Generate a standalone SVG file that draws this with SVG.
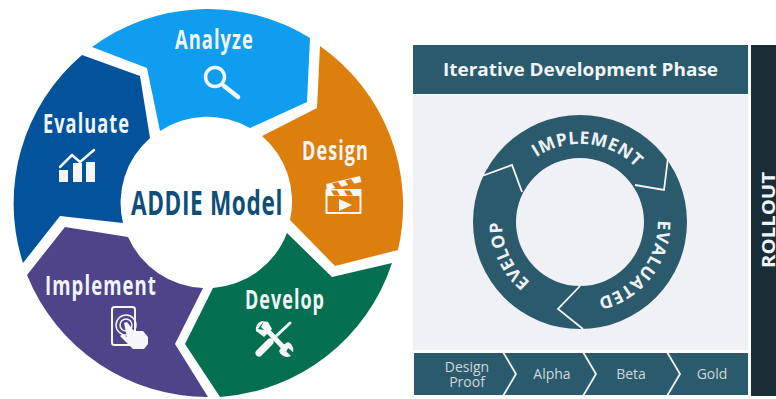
<svg xmlns="http://www.w3.org/2000/svg" width="776" height="399" viewBox="0 0 776 399">
<style>
.t{font-family:"Open Sans","Noto Sans",sans-serif;font-weight:700;fill:#f1f5f8}
.lab{font-size:26px;letter-spacing:1.500px}
.ic{fill:none;stroke:#f4f6f8;stroke-width:2;stroke-linecap:round;stroke-linejoin:round}
.w{fill:#f4f6f8}
.div{fill:none;stroke:#f4f6f8;stroke-width:1.800;stroke-linejoin:miter}
.ring{font-family:"Open Sans","Noto Sans",sans-serif;font-weight:700;font-size:17.500px;fill:#eef2f5;letter-spacing:.6px}
.ch{font-family:"Open Sans","Noto Sans",sans-serif;font-size:14px;fill:#cdd7dc;text-anchor:middle}
</style>
<rect width="776" height="399" fill="#ffffff"/>
<g id="analyze">
<path d="M92 47A195 195 0 0 1 310 38L307 102L250 128A86 86 0 0 0 160 131L147 68Z" fill="#0f9df0"/>
<text class="t lab" x="175" y="49" textLength="79" lengthAdjust="spacingAndGlyphs">Analyze</text>
<circle cx="215" cy="77" r="9.500" class="ic" style="stroke-width:3.500"/>
<path d="M224 86L238 97" class="ic" style="stroke-width:4.500"/>
</g>
<g id="design">
<path d="M320 46A195 195 0 0 1 398 250L335 266L290 220A86 86 0 0 0 262 136L317 108Z" fill="#dd7f0c"/>
<text class="t lab" x="302" y="160" textLength="67" lengthAdjust="spacingAndGlyphs">Design</text>
<rect x="326.500" y="190" width="34" height="23" class="ic"/>
<path d="M326 184L360 176L361.500 182L327 190Z" class="w"/>
<path d="M326 190H361V196H326Z" class="w"/>
<path d="M332 183.500L338 182L342 187.500L336 189ZM345 180.500L351 179L355 184.500L349 186Z" fill="#dd7f0c"/>
<path d="M331 190.500H337L340 195.500H334ZM344 190.500H350L353 195.500H347Z" fill="#dd7f0c"/>
<path d="M339 199V211L352 205Z" class="w"/>
</g>
<g id="develop">
<path d="M392 263A195 195 0 0 1 220 397L185 344L213 288A86 86 0 0 0 287 233L332 277Z" fill="#05704f"/>
<text class="t lab" x="245" y="309" textLength="80" lengthAdjust="spacingAndGlyphs">Develop</text>
<path d="M290 323L272 340" class="ic" style="stroke-width:3"/>
<path d="M270 342L259 353" class="ic" style="stroke-width:7"/>
<path d="M265 328L285 349" class="ic" style="stroke-width:5"/>
<path d="M262 321A8.500 8.500 0 0 0 256 331L264 337L272 329L268 322Z" class="w"/>
<path d="M264 321L261 327L264 330L258 329Z" fill="#05704f"/>
<path d="M283 345L279 351A8.500 8.500 0 0 0 291 356L286 351L288 348L293 352A8.500 8.500 0 0 0 288 342Z" class="w"/>
</g>
<g id="implement">
<path d="M27 275A195 195 0 0 0 208 397L175 344L203 288A86 86 0 0 1 128 237L65 227Z" fill="#4f4489"/>
<text class="t lab" x="45" y="295" textLength="112" lengthAdjust="spacingAndGlyphs">Implement</text>
<rect x="112" y="307" width="23" height="38" rx="2.500" class="ic"/>
<circle cx="126" cy="325" r="10" class="ic" style="stroke-width:1.500"/>
<circle cx="126" cy="325" r="6" class="ic" style="stroke-width:1.500"/>
<path d="M124 323L127 322L134 331L143 331L148 337V344L144 349H133L126 342L120 336L123 334L127 337Z" class="w"/>
</g>
<g id="evaluate">
<path d="M82 55L140 76L150 138A86 86 0 0 0 123 223L60 216L23 263A195 195 0 0 1 82 55Z" fill="#03529c"/>
<text class="t lab" x="43" y="133" textLength="87" lengthAdjust="spacingAndGlyphs">Evaluate</text>
<path d="M60 167L72 155L80 162L94 150" class="ic" style="stroke-width:2.500"/>
<path d="M59 170H68V182H59ZM73 163H82V182H73ZM86 162H95V182H86Z" class="w"/>
</g>
<g id="addie-model">
<text x="131" y="215" font-family="'Open Sans','Noto Sans',sans-serif" font-weight="700" font-size="34" fill="#0f4e78" letter-spacing="1" textLength="152" lengthAdjust="spacingAndGlyphs">ADDIE Model</text>
</g>
<g id="iterative-phase">
<rect x="413" y="95" width="335" height="255" fill="#f0f1f5"/>
<rect x="413" y="45" width="335" height="49" fill="#2b5a6d"/>
<text class="t" x="443" y="76" font-size="17.500" textLength="275" lengthAdjust="spacingAndGlyphs">Iterative Development Phase</text>
</g>
<g id="rollout">
<rect x="751" y="45" width="25" height="351" fill="#182d36"/>
<text class="t" font-size="17.500" transform="translate(775 268) rotate(-90)" textLength="96" lengthAdjust="spacingAndGlyphs">ROLLOUT</text>
</g>
<g id="cycle">
<path fill-rule="evenodd" fill="#2b5a6d" d="M473 222A107 107 0 1 1 687 222A107 107 0 1 1 473 222ZM516 222A64 64 0 1 0 644 222A64 64 0 1 0 516 222Z"/>
<defs>
<path id="a1" d="M509.900 187.800A78 78 0 0 1 655.700 203.100"/>
<path id="a2" d="M646.100 180.700A78 78 0 0 1 555.900 296.200"/>
<path id="a3" d="M573.200 299.700A78 78 0 0 1 516.100 177.200"/>
</defs>
<text class="ring" text-anchor="middle"><textPath href="#a1" startOffset="50%">IMPLEMENT</textPath></text>
<text class="ring" text-anchor="middle"><textPath href="#a2" startOffset="50%">EVALUATED</textPath></text>
<text class="ring" text-anchor="middle"><textPath href="#a3" startOffset="50%">EVELOP</textPath></text>
</g>
<g id="connectors">
<path class="div" d="M482 176L512 165L522 192"/>
<path class="div" d="M668 158L664 190L635 185"/>
<path class="div" d="M583 329L558 309L580 286"/>
</g>
<g id="stages">
<rect x="414" y="353" width="334" height="42" fill="#2b5a6d"/>
<path class="div" d="M503 352L516 374L503 396"/>
<path class="div" d="M583 352L596 374L583 396"/>
<path class="div" d="M667 352L680 374L667 396"/>
<text class="ch" x="467" y="372">Design</text>
<text class="ch" x="467" y="387">Proof</text>
<text class="ch" x="552" y="379">Alpha</text>
<text class="ch" x="631" y="379">Beta</text>
<text class="ch" x="712" y="379">Gold</text>
</g>
</svg>
